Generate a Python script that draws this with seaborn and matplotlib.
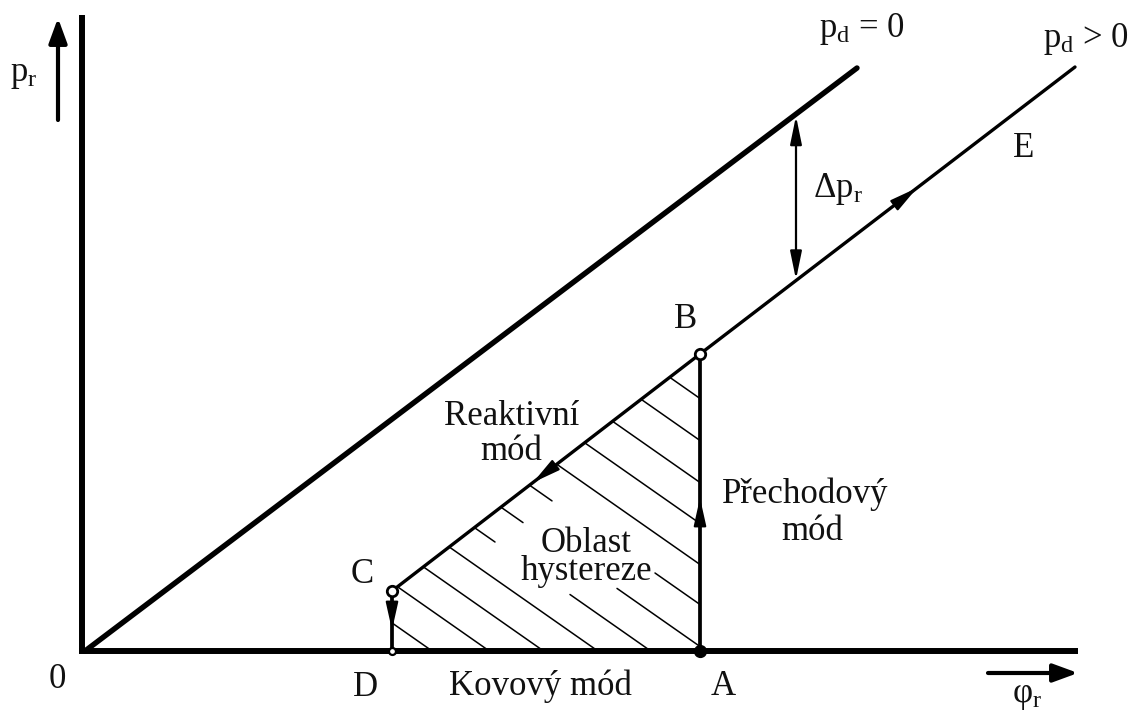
import numpy as np
import pandas as pd
import matplotlib
matplotlib.use("Agg")
import matplotlib.pyplot as plt
from matplotlib.patches import Polygon
import seaborn as sns

# --- schematic values (reactive gas flow phi_r vs. reactive partial pressure p_r) ---
# line for p_d = 0 (no consumption of reactive gas)
pd0_x = [0, 772]
pd0_y = [0, 583]
# line for p_d > 0 (reactive mode branch C -> B -> E)
pdp_x = [307, 615, 990]
pdp_y = [60, 297, 584]
# characteristic points of the hysteresis loop
point_names = ["A", "B", "C", "D"]
point_x = [615, 615, 307, 307]
point_y = [0, 297, 60, 0]
# axis extents
x_axis_end = 993
y_axis_end = 636
# hatch lines y = b - 0.7 x inside the hysteresis region
hatch_b = [683, 641, 599, 558, 517, 477, 435, 396, 359, 321, 283, 243]
hatch_slope = -0.7
# interrupted hatch lines (gap around the region label): b -> (gap start x, gap end x)
hatch_gaps = {477: (467, 570), 435: (438, 532), 396: (410, 485)}

sns.set_theme(style="white")
plt.rcParams["font.family"] = ["Liberation Serif", "DejaVu Serif"]
plt.rcParams["mathtext.fontset"] = "custom"
plt.rcParams["mathtext.rm"] = "Liberation Serif"
plt.rcParams["mathtext.it"] = "Liberation Serif:italic"

fig = plt.figure(figsize=(11.32, 7.13), dpi=100)
ax = fig.add_axes([0, 0, 1, 1])
ax.set_xlim(-85, 1047)
ax.set_ylim(-62, 651)
ax.axis("off")

K = "black"

def line(xs, ys, lw, cap="round"):
    df = pd.DataFrame({"x": xs, "y": ys})
    sns.lineplot(data=df, x="x", y="y", ax=ax, color=K, lw=lw,
                 estimator=None, sort=False, solid_capstyle=cap, legend=False)

# coordinate axes
line([-3, -3], [0, y_axis_end], 4.3, cap="butt")
line([-6, x_axis_end], [0, 0], 4.3, cap="butt")

# p_d = 0 line
line(pd0_x, pd0_y, 3.9)
# p_d > 0 branch
line(pdp_x, pdp_y, 2.4)
# transition mode A -> B and drop C -> D
line([point_x[0], point_x[1]], [point_y[0], point_y[1]], 2.7, cap="butt")
line([point_x[2], point_x[3]], [point_y[2], point_y[3]], 2.7, cap="butt")

# hatching of the hysteresis region
region = Polygon([(point_x[3], point_y[3]), (point_x[2], point_y[2]),
                  (point_x[1], point_y[1]), (point_x[0], point_y[0])],
                 closed=True, facecolor="none", edgecolor="none")
ax.add_patch(region)
for b in hatch_b:
    pieces = [(250, 660)]
    if b in hatch_gaps:
        g0, g1 = hatch_gaps[b]
        pieces = [(250, g0), (g1, 660)]
    for x0, x1 in pieces:
        hx = np.array([x0, x1], dtype=float)
        hy = b + hatch_slope * hx
        ln, = ax.plot(hx, hy, color=K, lw=1.1)
        ln.set_clip_path(region)

# points
ax.plot([point_x[1], point_x[2]], [point_y[1], point_y[2]], "o", ms=7.5,
        mfc="white", mec=K, mew=2, zorder=5)
ax.plot([point_x[3]], [point_y[3]], "o", ms=5, mfc="white", mec=K, mew=1.6, zorder=5)
ax.plot([point_x[0]], [point_y[0]], "o", ms=8.5, mfc=K, mec=K, zorder=5)

# direction arrows along the branches
def on_pdp(x):
    return float(np.interp(x, pdp_x, pdp_y))

def on_pd0(x):
    return float(np.interp(x, pd0_x, pd0_y))

head = dict(arrowstyle="-|>,head_length=1.7,head_width=0.38", color=K,
            lw=1.5, mutation_scale=10, shrinkA=0, shrinkB=0)

def arrow(tip, tail, style=head):
    ax.annotate("", xy=tip, xytext=tail, arrowprops=style)

arrow((832, on_pdp(832)), (812, on_pdp(812)))          # towards E
arrow((448, on_pdp(448)), (468, on_pdp(468)))          # reactive mode, down
arrow((point_x[0], 153), (point_x[0], 128))            # transition, up
arrow((point_x[2], 21), (point_x[2], 46))              # drop C -> D

# Delta p_r double arrow
dx = 711
dstyle = dict(arrowstyle="<|-|>,head_length=1.7,head_width=0.35", color=K,
              lw=1.6, mutation_scale=10, shrinkA=0, shrinkB=0)
ax.annotate("", xy=(dx, on_pd0(dx) - 2), xytext=(dx, on_pdp(dx) + 1), arrowprops=dstyle)

# axis direction arrows
astyle = dict(arrowstyle="-|>,head_length=1.5,head_width=0.55", color=K,
              lw=3.0, mutation_scale=10, shrinkA=0, shrinkB=0)
ax.annotate("", xy=(-27, 633), xytext=(-27, 531), arrowprops=astyle)
ax.annotate("", xy=(993, -22), xytext=(903, -22), arrowprops=astyle)

# labels
fs = 25
def label(x, y, s, size=fs, **kw):
    ax.text(x, y, s, ha="center", va="baseline", fontsize=size, color="#111111", **kw)

label(-28, -37, "0")
label(281, -45, "D")
label(455, -44, "Kovový mód")
label(638, -44, "A")
label(942, -51, r"$\mathrm{φ_r}$")
label(277, 68, "C")
label(601, 323, "B")
label(939, 494, "E")
label(753, 454, r"Δ$\mathrm{p_r}$")
label(777, 614, r"$\mathrm{p_d}$ = 0")
label(1001, 604, r"$\mathrm{p_d}$ > 0")
label(-61, 570, r"$\mathrm{p_r}$")
label(427, 226, "Reaktivní")
label(426, 191, "mód")
label(720, 148, "Přechodový")
label(727, 111, "mód")
label(501, 71, "Oblast\nhystereze", multialignment="center", linespacing=0.82)

fig.savefig("out.png", dpi=100, facecolor="white")
